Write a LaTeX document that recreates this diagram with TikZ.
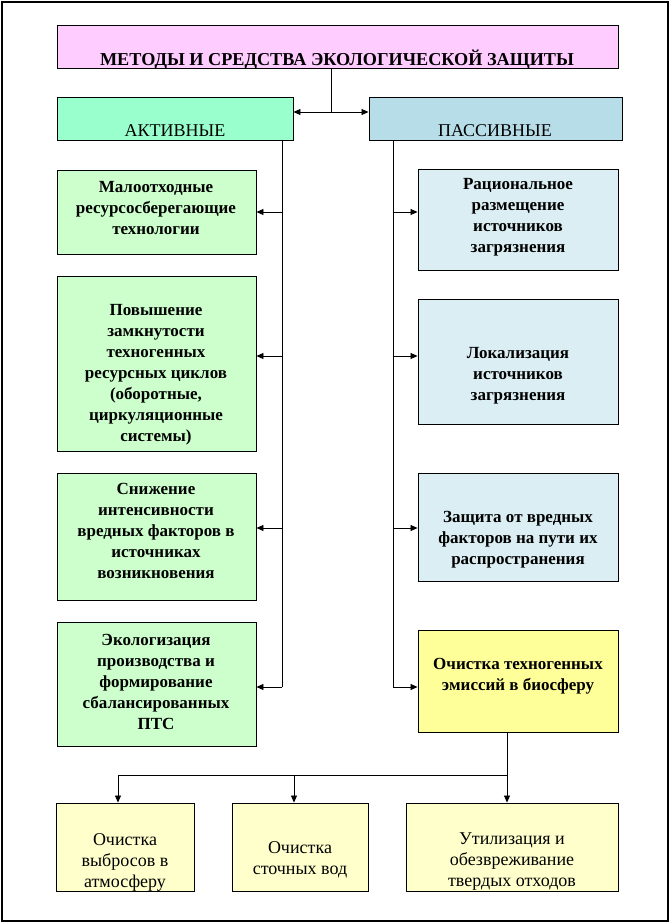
\documentclass[tikz,border=0pt]{standalone}
\usepackage{fontspec}
\setmainfont{Liberation Serif}
\usetikzlibrary{arrows.meta}
\definecolor{cpink}{HTML}{FFCCFF}
\definecolor{cmint}{HTML}{99FFCC}
\definecolor{cpasshead}{HTML}{B7DEE8}
\definecolor{cgreen}{HTML}{CCFFCC}
\definecolor{cblue}{HTML}{DAEEF3}
\definecolor{cyel}{HTML}{FFFF99}
\definecolor{cpale}{HTML}{FFFFCC}
\tikzset{
  boxr/.style={draw=black, line width=0.9pt, inner sep=0pt},
  txt/.style={align=center, inner sep=0pt, font=\fontsize{17}{21}\selectfont\bfseries},
  txtr/.style={align=center, inner sep=0pt, font=\fontsize{18}{21}\selectfont},
  conn/.style={line width=0.8pt},
  arr/.style={line width=0.8pt, -{Triangle[length=7pt,width=6pt]}},
}
\newcommand{\mkbox}[6]{% name, x1, y1, x2, y2, fill
  \node[boxr, fill=#6, minimum width={(#4-#2)*1pt}, minimum height={(#5-#3)*1pt}] (#1) at ({(#2+#4)/2}, {(#3+#5)/2}) {};
}
\begin{document}
\begin{tikzpicture}[x=1pt, y=-1pt]
\useasboundingbox (0,0) rectangle (670,924);
\fill[white] (0,0) rectangle (670,924);
\draw[line width=2.5pt] (2,2) rectangle (668,921);

% header boxes
\mkbox{title}{57}{25}{618}{68}{cpink}
\node[txt, font=\fontsize{18.2}{21}\selectfont\bfseries] (titletxt) at (337,60) {МЕТОДЫ И СРЕДСТВА ЭКОЛОГИЧЕСКОЙ ЗАЩИТЫ};
\mkbox{act}{57}{97}{293}{140}{cmint}
\node[txtr] (acttxt) at (175,131) {АКТИВНЫЕ};
\mkbox{pas}{369}{97}{622}{140}{cpasshead}
\node[txtr] (pastxt) at (495,131) {ПАССИВНЫЕ};

% left column
\mkbox{l1}{57}{170}{256}{254}{cgreen}
\node[txt] (l1t) at (156,208) {Малоотходные\\ресурсосберегающие\\технологии};
\mkbox{l2}{57}{276}{256}{451}{cgreen}
\node[txt] (l2t) at (156,375) {Повышение\\замкнутости\\техногенных\\ресурсных циклов\\(оборотные,\\циркуляционные\\системы)};
\mkbox{l3}{57}{473}{256}{600}{cgreen}
\node[txt] (l3t) at (156,531) {Снижение\\интенсивности\\вредных факторов в\\источниках\\возникновения};
\mkbox{l4}{57}{622}{256}{746}{cgreen}
\node[txt] (l4t) at (156,682) {Экологизация\\производства и\\формирование\\сбалансированных\\ПТС};

% right column
\mkbox{r1}{418}{169}{618}{270}{cblue}
\node[txt] (r1t) at (518,217) {Рациональное\\размещение\\источников\\загрязнения};
\mkbox{r2}{418}{299}{618}{424}{cblue}
\node[txt] (r2t) at (518,376) {Локализация\\источников\\загрязнения};
\mkbox{r3}{418}{473}{618}{581}{cblue}
\node[txt] (r3t) at (518,540) {Защита от вредных\\факторов на пути их\\распространения};
\mkbox{r4}{418}{630}{618}{732}{cyel}
\node[txt] (r4t) at (518,676) {Очистка техногенных\\эмиссий в биосферу};

% bottom boxes
\mkbox{b1}{56}{803}{194}{891}{cpale}
\node[txtr] (b1t) at (125,862) {Очистка\\выбросов в\\атмосферу};
\mkbox{b2}{232}{803}{368}{891}{cpale}
\node[txtr] (b2t) at (300,860) {Очистка\\сточных вод};
\mkbox{b3}{406}{803}{618}{891}{cpale}
\node[txtr] (b3t) at (512,862) {Утилизация и\\обезвреживание\\твердых отходов};

% connectors: title to headers
\coordinate (tj) at (331,112);
\draw[conn] (title.south -| tj) -- (tj);
\draw[arr] (tj) -- (act.east |- tj);
\draw[arr] (tj) -- (pas.west |- tj);

% left spine
\coordinate (ls) at (282,140);
\coordinate (le) at (282,687);
\draw[conn] (ls) -- (le);
\coordinate (la1) at (282,212);
\coordinate (la2) at (282,356);
\coordinate (la3) at (282,528);
\draw[arr] (la1) -- (l1.east |- la1);
\draw[arr] (la2) -- (l2.east |- la2);
\draw[arr] (la3) -- (l3.east |- la3);
\draw[arr] (le) -- (l4.east |- le);

% right spine
\coordinate (rs) at (393,140);
\coordinate (re) at (393,687);
\draw[conn] (rs) -- (re);
\coordinate (ra1) at (393,212);
\coordinate (ra2) at (393,356);
\coordinate (ra3) at (393,528);
\draw[arr] (ra1) -- (r1.west |- ra1);
\draw[arr] (ra2) -- (r2.west |- ra2);
\draw[arr] (ra3) -- (r3.west |- ra3);
\draw[arr] (re) -- (r4.west |- re);

% bottom distribution
\coordinate (bj) at (507,775);
\coordinate (bl) at (118,775);
\coordinate (bm) at (294,775);
\draw[conn] (r4.south -| bj) -- (bj) -- (bl);
\draw[arr] (bl) -- (bl |- b1.north);
\draw[arr] (bm) -- (bm |- b2.north);
\draw[arr] (bj) -- (bj |- b3.north);
\end{tikzpicture}
\end{document}
